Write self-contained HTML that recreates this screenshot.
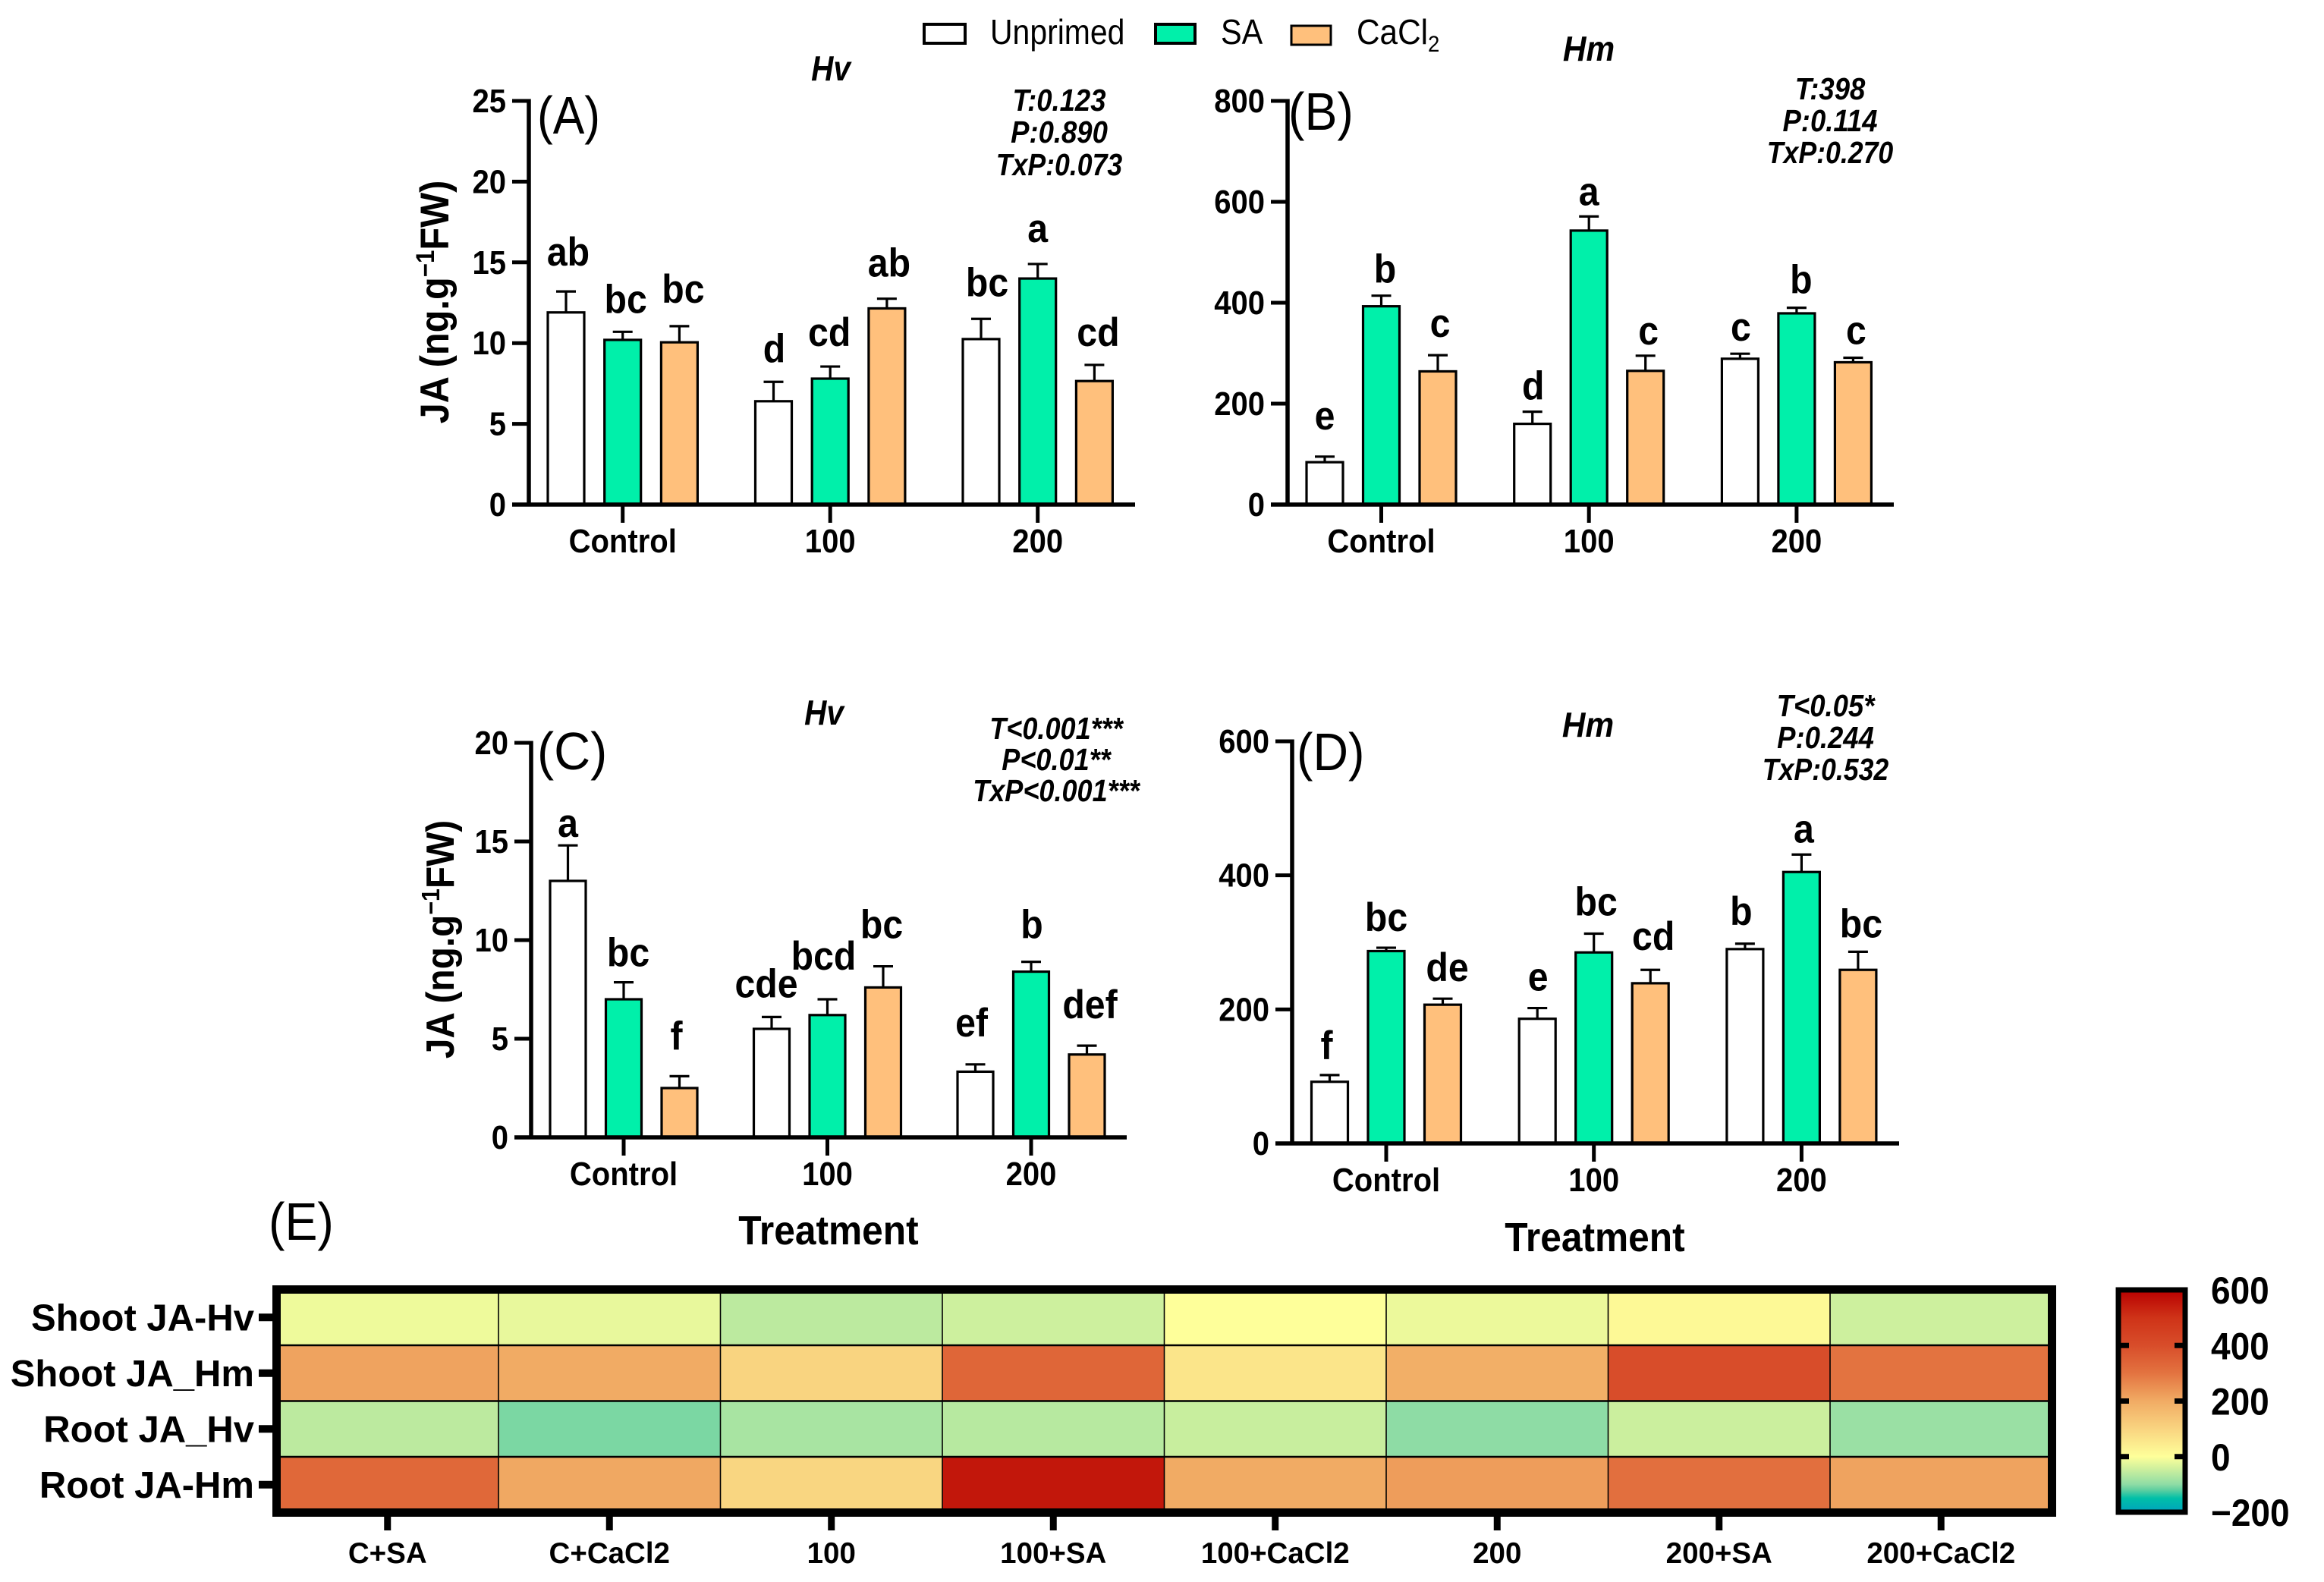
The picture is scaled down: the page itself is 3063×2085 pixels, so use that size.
<!DOCTYPE html>
<html lang="en">
<head>
<meta charset="utf-8">
<title>JA content in Hv and Hm under priming treatments</title>
<style>
html,body{margin:0;padding:0;background:#fff;}
svg{display:block;}
text{font-family:"Liberation Sans",Arial,sans-serif;fill:#000;}
.b{font-weight:700;}
.bi{font-weight:700;font-style:italic;}
</style>
</head>
<body>
<svg id="figure" xmlns="http://www.w3.org/2000/svg" width="3063" height="2085" viewBox="0 0 3063 2085">
  <rect x="0" y="0" width="3063" height="2085" fill="#fff"/>
  <defs><linearGradient id="cbar" x1="0" y1="1" x2="0" y2="0"></linearGradient></defs>

  <g>
    <g>
      <rect x="1218" y="32" width="54" height="25" fill="#fff" stroke="#000" stroke-width="4"/>
      <text transform="translate(1305,58) scale(.89,1)" font-size="46">Unprimed</text>
    </g>
    <g>
      <rect x="1523" y="32" width="52" height="25" fill="#00f0aa" stroke="#000" stroke-width="4"/>
      <text transform="translate(1609,58) scale(.9,1)" font-size="46">SA</text>
    </g>
    <g>
      <rect x="1702" y="34" width="52" height="25" fill="#ffc07c" stroke="#000" stroke-width="3"/>
      <text transform="translate(1788,58) scale(.92,1)" font-size="46">CaCl<tspan font-size="30" dy="10">2</tspan></text>
    </g>
  </g>

  <g id="panel-a">
    <text transform="translate(708,176) scale(.89,1)" font-size="70">(A)</text>
    <text class="bi" transform="translate(1095,106) scale(.88,1)" font-size="46" text-anchor="middle">Hv</text>
    <g class="bi" font-size="41" text-anchor="middle">
      <text class="bi" transform="translate(1396,146) scale(.89,1)">T:0.123</text>
      <text class="bi" transform="translate(1396,188) scale(.89,1)">P:0.890</text>
      <text class="bi" transform="translate(1396,231) scale(.87,1)">TxP:0.073</text>
    </g>
    <text class="b" transform="translate(591,398) rotate(-90) scale(.92,1)" font-size="53" text-anchor="middle">JA (ng.g<tspan font-size="34" dy="-19">−1</tspan><tspan dy="19">FW)</tspan></text>
  </g>

  <g id="panel-b">
    <text transform="translate(1698,171) scale(.92,1)" font-size="70">(B)</text>
    <text class="bi" transform="translate(2094,80) scale(.92,1)" font-size="46" text-anchor="middle">Hm</text>
    <g class="bi" font-size="41" text-anchor="middle">
      <text class="bi" transform="translate(2412,131) scale(.89,1)">T:398</text>
      <text class="bi" transform="translate(2412,173) scale(.89,1)">P:0.114</text>
      <text class="bi" transform="translate(2412,215) scale(.87,1)">TxP:0.270</text>
    </g>
  </g>

  <g id="panel-c">
    <text transform="translate(708,1014) scale(.95,1)" font-size="70">(C)</text>
    <text class="bi" transform="translate(1086,955) scale(.88,1)" font-size="46" text-anchor="middle">Hv</text>
    <g class="bi" font-size="41" text-anchor="middle">
      <text class="bi" transform="translate(1392,974) scale(.88,1)">T&lt;0.001***</text>
      <text class="bi" transform="translate(1392,1015) scale(.88,1)">P&lt;0.01**</text>
      <text class="bi" transform="translate(1392,1056) scale(.88,1)">TxP&lt;0.001***</text>
    </g>
    <text class="b" transform="translate(598,1238) rotate(-90) scale(.92,1)" font-size="52" text-anchor="middle">JA (ng.g<tspan font-size="33" dy="-19">−1</tspan><tspan dy="19">FW)</tspan></text>
    <text class="b" transform="translate(1092,1640) scale(.92,1)" font-size="54" text-anchor="middle">Treatment</text>
  </g>

  <g id="panel-d">
    <text transform="translate(1709,1015) scale(.92,1)" font-size="70">(D)</text>
    <text class="bi" transform="translate(2093,971) scale(.92,1)" font-size="46" text-anchor="middle">Hm</text>
    <g class="bi" font-size="41" text-anchor="middle">
      <text class="bi" transform="translate(2406,944) scale(.89,1)">T&lt;0.05*</text>
      <text class="bi" transform="translate(2406,986) scale(.89,1)">P:0.244</text>
      <text class="bi" transform="translate(2406,1028) scale(.87,1)">TxP:0.532</text>
    </g>
    <text class="b" transform="translate(2102,1649) scale(.92,1)" font-size="54" text-anchor="middle">Treatment</text>
  </g>

  <g id="panel-e">
    <text transform="translate(354,1634) scale(.92,1)" font-size="70">(E)</text>
  </g>
</svg>

<script>
// ---------- shared categories ----------
const groupLabels = ['Control', '100', '200'];

// ---------- panel A ----------
const aValues = [11.9, 10.2, 10.05, 6.4, 7.8, 12.15, 10.25, 14, 7.65];
const aErrTops = [13.2, 10.7, 11.05, 7.6, 8.55, 12.75, 11.5, 14.9, 8.65];
const aLetters = ['ab', 'bc', 'bc', 'd', 'cd', 'ab', 'bc', 'a', 'cd'];
const aTicks = [0, 5, 10, 15, 20, 25];

// ---------- panel B ----------
const bValues = [84, 393, 264, 160, 543, 265, 289, 379, 282];
const bErrTops = [95, 414, 296, 184, 571, 295, 299, 390, 291];
const bLetters = ['e', 'b', 'c', 'd', 'a', 'c', 'c', 'b', 'c'];
const bTicks = [0, 200, 400, 600, 800];

// ---------- panel C ----------
const cValues = [13, 7, 2.5, 5.5, 6.2, 7.6, 3.33, 8.4, 4.2];
const cErrTops = [14.8, 7.86, 3.1, 6.1, 7, 8.67, 3.7, 8.9, 4.65];
const cLetters = ['a', 'bc', 'f', 'cde', 'bcd', 'bc', 'ef', 'b', 'def'];
const cTicks = [0, 5, 10, 15, 20];

// ---------- panel D ----------
const dValues = [92, 287, 207, 186, 285, 239, 290, 405, 259];
const dErrTops = [102, 292, 216, 202, 313, 259, 298, 431, 286];
const dLetters = ['f', 'bc', 'de', 'e', 'bc', 'cd', 'b', 'a', 'bc'];
const dTicks = [0, 200, 400, 600];

// ---------- heatmap ----------
const heatRows = ['Shoot JA-Hv', 'Shoot JA_Hm', 'Root JA_Hv', 'Root JA-Hm'];
const heatCols = ['C+SA', 'C+CaCl2', '100', '100+SA', '100+CaCl2', '200', '200+SA', '200+CaCl2'];
const heatShootHv = [-15, -20, -60, -45, 0, -17, 15, -45];
const heatShootHm = [215, 200, 100, 335, 60, 190, 400, 300];
const heatRootHv = [-60, -108, -78, -65, -50, -100, -47, -90];
const heatRootHm = [330, 205, 95, 555, 200, 225, 310, 215];
const colorbarTicks = [-200, 0, 200, 400, 600];
const scaleValues = [-200, -150, -120, -100, -50, 0, 100, 200, 300, 400, 500, 600];
const scaleColors = ['#00a3bd', '#00bfa8', '#5fcfa0', '#8edca5', '#c8ee9e', '#feff9a', '#f9d480', '#f1ab64', '#e37340', '#d84d2a', '#cf3318', '#b80000'];

const seriesFills = ['#ffffff', '#00f0aa', '#ffc07c'];
const seriesNames = ['unprimed', 'sa', 'cacl2'];
const NS = 'http://www.w3.org/2000/svg';

function make(tag, attrs, parent, text) {
  const node = document.createElementNS(NS, tag);
  for (const k in attrs) node.setAttribute(k, attrs[k]);
  if (text !== undefined) node.textContent = text;
  parent.appendChild(node);
  return node;
}

function makeLabel(parent, x, y, str, size, squeeze, anchor) {
  return make('text', {
    transform: 'translate(' + x + ',' + y + ') scale(' + squeeze + ',1)',
    'font-size': size, 'font-weight': 700, 'text-anchor': anchor
  }, parent, str);
}

function drawPanel(p) {
  const root = document.getElementById('panel-' + p.id);
  const yOf = v => p.y0 - (v / p.max) * (p.y0 - p.yTop);
  const xOf = (g, s) => p.first + g * p.groupStep + s * p.barStep;

  p.values.forEach((v, idx) => {
    const g = Math.floor(idx / 3), s = idx % 3;
    const cx = xOf(g, s);
    const err = make('path', {
      d: 'M' + cx + ' ' + yOf(v) + 'V' + yOf(p.errTops[idx]) + 'M' + (cx - 13) + ' ' + yOf(p.errTops[idx]) + 'H' + (cx + 13),
      stroke: '#000', 'stroke-width': 3.2, fill: 'none'
    }, root);
    
    
    const bar = make('rect', {
      x: cx - p.barW / 2, y: yOf(v), width: p.barW, height: p.y0 - yOf(v),
      fill: seriesFills[s], stroke: '#000', 'stroke-width': 3.2
    }, root);
    
    
    const nudge = p.nudge[idx];
    const letter = makeLabel(root, cx + nudge[0], yOf(p.errTops[idx]) - p.gap + nudge[1], p.letters[idx], 53, 0.91, 'middle');
    
    
  });

  const yAxis = make('line', {x1: p.xAxis, x2: p.xAxis, y1: p.yTop - 2.5, y2: p.y0 + 2.5, stroke: '#000', 'stroke-width': 5.5}, root);
  
  
  const xAxis = make('line', {x1: p.xAxis - 22, x2: p.xEnd, y1: p.y0, y2: p.y0, stroke: '#000', 'stroke-width': 5.5}, root);
  
  

  p.ticks.forEach(t => {
    const tick = make('line', {x1: p.xAxis - 22, x2: p.xAxis, y1: yOf(t), y2: yOf(t), stroke: '#000', 'stroke-width': 5}, root);
    
    
    const label = makeLabel(root, p.xAxis - 30, yOf(t) + 15, String(t), 44, 0.91, 'end');
    
    
  });

  groupLabels.forEach((name, g) => {
    const cx = xOf(g, 1);
    const tick = make('line', {x1: cx, x2: cx, y1: p.y0, y2: p.y0 + 24, stroke: '#000', 'stroke-width': 5}, root);
    
    
    const label = makeLabel(root, cx, p.y0 + 63, name, 44, 0.91, 'middle');
    
    
  });
}

drawPanel({id: 'a', values: aValues, errTops: aErrTops, letters: aLetters, ticks: aTicks, max: 25,
  y0: 665, yTop: 133, xAxis: 697, xEnd: 1496, first: 746, groupStep: 273.5, barStep: 74.7, barW: 48, gap: 28,
  nudge: [[3,-6],[4,3],[5,-3],[1,2],[-1,1],[3,-1],[8,-2],[0,-1],[5,3]]});
drawPanel({id: 'b', values: bValues, errTops: bErrTops, letters: bLetters, ticks: bTicks, max: 800,
  y0: 665, yTop: 133, xAxis: 1697, xEnd: 2496, first: 1746, groupStep: 273.7, barStep: 74.5, barW: 48, gap: 17,
  nudge: [[0,-19],[5,0],[3,-7],[1,1],[0,2],[4,2],[1,0],[6,-2],[4,-1]]});
drawPanel({id: 'c', values: cValues, errTops: cErrTops, letters: cLetters, ticks: cTicks, max: 20,
  y0: 1499, yTop: 979, xAxis: 700, xEnd: 1485, first: 748.5, groupStep: 268.5, barStep: 73.5, barW: 47, gap: 24,
  nudge: [[0,13],[6,3],[-4,-11],[-7,-2],[-5,-15],[-2,-13],[-5,-13],[1,-7],[4,-12]]});
drawPanel({id: 'd', values: dValues, errTops: dErrTops, letters: dLetters, ticks: dTicks, max: 600,
  y0: 1507, yTop: 977, xAxis: 1703, xEnd: 2503, first: 1752.5, groupStep: 273.7, barStep: 74.5, barW: 48, gap: 22,
  nudge: [[-4,1],[0,0],[6,-1],[1,-1],[3,-2],[4,-4],[-5,-3],[3,6],[4,3]]});

// ---------- heatmap drawing ----------
function hexToRgb(h) {
  return [parseInt(h.slice(1, 3), 16), parseInt(h.slice(3, 5), 16), parseInt(h.slice(5, 7), 16)];
}
function colorOf(v) {
  const c = Math.max(scaleValues[0], Math.min(scaleValues[scaleValues.length - 1], v));
  let i = 0;
  while (i < scaleValues.length - 2 && c > scaleValues[i + 1]) i++;
  const t = (c - scaleValues[i]) / (scaleValues[i + 1] - scaleValues[i]);
  const a = hexToRgb(scaleColors[i]), b = hexToRgb(scaleColors[i + 1]);
  return 'rgb(' + a.map((x, k) => Math.round(x + (b[k] - x) * t)).join(',') + ')';
}

const heatRoot = document.getElementById('panel-e');
const heatBox = {left: 364.5, right: 2704.5, top: 1699.5, bottom: 1993.5, frame: 11};
const heatData = [heatShootHv, heatShootHm, heatRootHv, heatRootHm];
const colX = j => heatBox.left + j * (heatBox.right - heatBox.left) / heatCols.length;
const rowY = i => heatBox.top + i * (heatBox.bottom - heatBox.top) / heatRows.length;

heatData.forEach((row, i) => {
  row.forEach((v, j) => {
    const cell = make('rect', {
      x: colX(j), y: rowY(i), width: colX(j + 1) - colX(j), height: rowY(i + 1) - rowY(i),
      fill: colorOf(v)
    }, heatRoot);
    
    
  });
});
heatCols.slice(1).forEach((name, k) => {
  const sep = make('line', {x1: colX(k + 1), x2: colX(k + 1), y1: heatBox.top, y2: heatBox.bottom, stroke: '#000', 'stroke-width': 1.6}, heatRoot);
  
  
});
heatRows.slice(1).forEach((name, k) => {
  const sep = make('line', {x1: heatBox.left, x2: heatBox.right, y1: rowY(k + 1), y2: rowY(k + 1), stroke: '#000', 'stroke-width': 2.6}, heatRoot);
  
  
});
const heatFrame = make('rect', {
  x: heatBox.left, y: heatBox.top, width: heatBox.right - heatBox.left, height: heatBox.bottom - heatBox.top,
  fill: 'none', stroke: '#000', 'stroke-width': heatBox.frame
}, heatRoot);



heatRows.forEach((name, i) => {
  const cy = (rowY(i) + rowY(i + 1)) / 2;
  const tick = make('line', {x1: heatBox.left - 5.5 - 18, x2: heatBox.left - 5.5, y1: cy, y2: cy, stroke: '#000', 'stroke-width': 10}, heatRoot);
  
  
  const label = makeLabel(heatRoot, 335, cy + 17, name, 49, 1, 'end');
  
  
});

heatCols.forEach((name, j) => {
  const cx = (colX(j) + colX(j + 1)) / 2;
  const y1 = heatBox.bottom + 5.5;
  const tick = make('line', {x1: cx, x2: cx, y1: y1, y2: y1 + 18, stroke: '#000', 'stroke-width': 9}, heatRoot);
  
  
  const label = makeLabel(heatRoot, cx, 2060, name, 38.5, 1, 'middle');
  
  
});

// ---------- colorbar ----------
const cbBox = {left: 2792, right: 2880, top: 1700, bottom: 1993};
const cbY = v => cbBox.bottom - (v - colorbarTicks[0]) / (colorbarTicks[colorbarTicks.length - 1] - colorbarTicks[0]) * (cbBox.bottom - cbBox.top);
const grad = document.getElementById('cbar');
scaleValues.forEach((v, i) => {
  make('stop', {offset: (v + 200) / 800, 'stop-color': scaleColors[i]}, grad);
});
const cbRect = make('rect', {
  x: cbBox.left, y: cbBox.top, width: cbBox.right - cbBox.left, height: cbBox.bottom - cbBox.top,
  fill: 'url(#cbar)', stroke: '#000', 'stroke-width': 7
}, heatRoot);


colorbarTicks.forEach(t => {
  const y = cbY(t);
  if (t > colorbarTicks[0] && t < colorbarTicks[colorbarTicks.length - 1]) {
    const tl = make('line', {x1: cbBox.left, x2: cbBox.left + 14, y1: y, y2: y, stroke: '#000', 'stroke-width': 7}, heatRoot);
    
    
    const tr = make('line', {x1: cbBox.right - 14, x2: cbBox.right, y1: y, y2: y, stroke: '#000', 'stroke-width': 7}, heatRoot);
    
    
  }
  const label = makeLabel(heatRoot, 2914, y + 18, t < 0 ? '−' + Math.abs(t) : String(t), 50, 0.92, 'start');
  
  
});
</script>
</body>
</html>
